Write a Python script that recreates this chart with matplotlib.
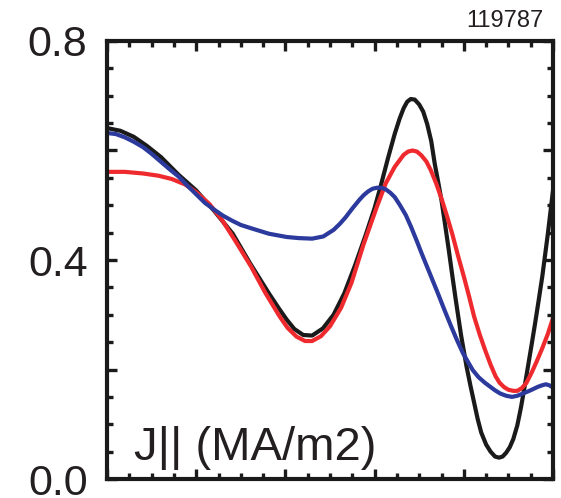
import numpy as np
import matplotlib
matplotlib.use("Agg")
from matplotlib import pyplot as plt
from matplotlib.ticker import MultipleLocator, NullFormatter

plt.rcParams['font.family'] = ['Liberation Sans', 'DejaVu Sans']

# curves (x normalised 0..1, J|| in MA/m2)
x_black = [0.0, 0.03, 0.06, 0.09, 0.121, 0.16, 0.2, 0.24, 0.282, 0.32, 0.363, 0.385, 0.403,
           0.42, 0.44, 0.46, 0.484, 0.508, 0.532, 0.556, 0.581, 0.6, 0.613, 0.63, 0.645,
           0.656, 0.665, 0.673, 0.681, 0.69, 0.70, 0.709, 0.718, 0.727, 0.735, 0.742, 0.75,
           0.758, 0.766, 0.774, 0.782, 0.794, 0.806, 0.815, 0.823, 0.831, 0.839, 0.85, 0.86,
           0.87, 0.879, 0.887, 0.895, 0.903, 0.911, 0.92, 0.928, 0.936, 0.944, 0.952, 0.96,
           0.968, 0.976, 0.988, 1.0]
y_black = [0.641, 0.636, 0.625, 0.608, 0.588, 0.556, 0.527, 0.49, 0.448, 0.395, 0.339, 0.312,
           0.291, 0.274, 0.263, 0.262, 0.275, 0.3, 0.339, 0.39, 0.448, 0.495, 0.533, 0.586,
           0.630, 0.658, 0.677, 0.689, 0.694, 0.693, 0.684, 0.671, 0.648, 0.617, 0.575, 0.545,
           0.509, 0.465, 0.42, 0.373, 0.327, 0.262, 0.206, 0.17, 0.14, 0.11, 0.085, 0.063,
           0.05, 0.041, 0.039, 0.041, 0.048, 0.058, 0.073, 0.098, 0.13, 0.167, 0.206, 0.245,
           0.285, 0.327, 0.370, 0.445, 0.527]

x_red = [0.0, 0.04, 0.081, 0.115, 0.145, 0.175, 0.2, 0.23, 0.258, 0.29, 0.323, 0.355, 0.387,
         0.405, 0.425, 0.444, 0.46, 0.48, 0.5, 0.525, 0.548, 0.575, 0.605, 0.625, 0.645, 0.665,
         0.675, 0.685, 0.695, 0.705, 0.716, 0.726, 0.738, 0.75, 0.762, 0.774, 0.787, 0.8,
         0.812, 0.823, 0.836, 0.848, 0.86, 0.871, 0.88, 0.89, 0.9, 0.911, 0.92, 0.93, 0.94,
         0.952, 0.963, 0.975, 0.988, 1.0]
y_red = [0.561, 0.561, 0.558, 0.554, 0.548, 0.538, 0.524, 0.502, 0.473, 0.432, 0.388, 0.34,
         0.297, 0.276, 0.26, 0.252, 0.252, 0.261, 0.279, 0.313, 0.358, 0.428, 0.497, 0.54,
         0.570, 0.592, 0.598, 0.600, 0.598, 0.591, 0.58, 0.564, 0.54, 0.512, 0.481, 0.448,
         0.408, 0.37, 0.333, 0.297, 0.263, 0.235, 0.209, 0.188, 0.176, 0.168, 0.163, 0.161,
         0.161, 0.166, 0.175, 0.194, 0.214, 0.237, 0.264, 0.294]

x_blue = [0.0, 0.02, 0.04, 0.06, 0.081, 0.1, 0.12, 0.14, 0.161, 0.18, 0.2, 0.22, 0.242, 0.26,
          0.28, 0.3, 0.323, 0.343, 0.363, 0.383, 0.403, 0.43, 0.46, 0.485, 0.508, 0.522,
          0.535, 0.55, 0.565, 0.575, 0.585, 0.595, 0.605, 0.615, 0.625, 0.635, 0.645, 0.657,
          0.67, 0.682, 0.694, 0.706, 0.718, 0.73, 0.742, 0.756, 0.77, 0.784, 0.798, 0.81,
          0.82, 0.833, 0.847, 0.86, 0.87, 0.882, 0.895, 0.908, 0.92, 0.932, 0.944, 0.955,
          0.965, 0.975, 0.984, 0.992, 1.0]
y_blue = [0.632, 0.63, 0.624, 0.616, 0.606, 0.594, 0.58, 0.566, 0.552, 0.536, 0.52, 0.504,
          0.491, 0.481, 0.472, 0.464, 0.458, 0.453, 0.448, 0.445, 0.442, 0.44, 0.439, 0.443,
          0.455, 0.466, 0.478, 0.494, 0.509, 0.518, 0.525, 0.53, 0.532, 0.532, 0.529, 0.523,
          0.515, 0.5, 0.482, 0.46, 0.436, 0.411, 0.387, 0.363, 0.339, 0.31, 0.282, 0.255,
          0.230, 0.213, 0.199, 0.186, 0.176, 0.168, 0.162, 0.156, 0.152, 0.15, 0.152, 0.156,
          0.160, 0.164, 0.168, 0.171, 0.173, 0.171, 0.167]

shot = "119787"
ylabel_text = "J|| (MA/m2)"
y_ticklabels = ["0.0", "0.4", "0.8"]

fig = plt.figure(figsize=(5.61, 4.98), dpi=100)
ax = fig.add_axes([107 / 561, 19 / 498, 446 / 561, 438 / 498])

lw = 3.0
ax.plot(x_black, y_black, color='#1a1a1a', lw=lw, solid_joinstyle='round')
ax.plot(x_red, y_red, color='#ee2a2e', lw=lw, solid_joinstyle='round')
ax.plot(x_blue, y_blue, color='#2b3a9c', lw=lw, solid_joinstyle='round')

ax.set_xlim(0, 1)
ax.set_ylim(0, 0.8)

ax.xaxis.set_major_locator(MultipleLocator(0.2))
ax.xaxis.set_minor_locator(MultipleLocator(0.05))
ax.xaxis.set_major_formatter(NullFormatter())
ax.yaxis.set_major_locator(MultipleLocator(0.2))
ax.yaxis.set_minor_locator(MultipleLocator(0.05))

ax.yaxis.set_major_formatter(plt.FuncFormatter(
    lambda v, p: y_ticklabels[int(round(v / 0.4))] if abs(v / 0.4 - round(v / 0.4)) < 1e-6 else ""))

ax.tick_params(which='both', direction='in', top=True, right=True, width=2.4, color='#1a1a1a')
ax.tick_params(which='major', length=7)
ax.tick_params(which='minor', length=4)
ax.tick_params(axis='y', labelsize=31, pad=14, labelcolor='#231f20')

for s in ax.spines.values():
    s.set_linewidth(3.0)
    s.set_color('#1a1a1a')

ax.text(0.06, 0.02, ylabel_text, transform=ax.transAxes, fontsize=34, color='#231f20',
        ha='left', va='bottom')
fig.text(543 / 561, 1 - 27 / 498, shot, fontsize=17, color='#231f20', ha='right', va='baseline')

fig.savefig('out.png', dpi=100)
